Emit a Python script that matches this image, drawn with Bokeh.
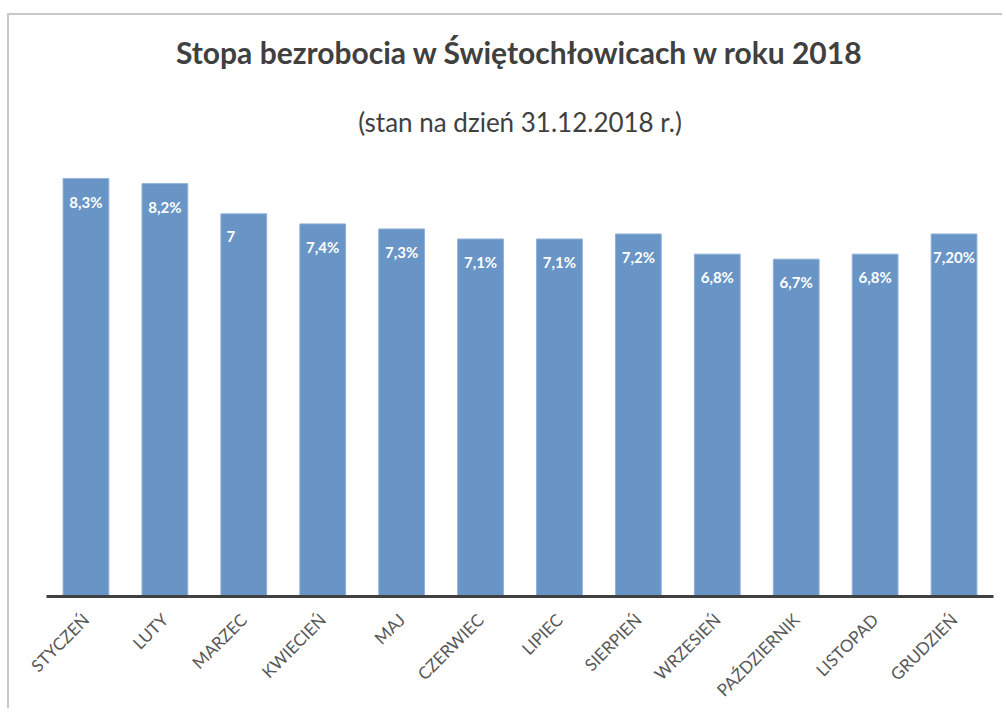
import math
from bokeh.plotting import figure
from bokeh.models import ColumnDataSource, Title, Range1d, FactorRange
from bokeh.core.properties import value
from bokeh.embed import file_html
from bokeh.resources import INLINE

months = ["STYCZEŃ", "LUTY", "MARZEC", "KWIECIEŃ", "MAJ", "CZERWIEC", "LIPIEC",
          "SIERPIEŃ", "WRZESIEŃ", "PAŹDZIERNIK", "LISTOPAD", "GRUDZIEŃ"]
rates = [8.3, 8.2, 7.6, 7.4, 7.3, 7.1, 7.1, 7.2, 6.8, 6.7, 6.8, 7.2]
labels = ["8,3%", "8,2%", "7", "7,4%", "7,3%", "7,1%", "7,1%", "7,2%",
          "6,8%", "6,7%", "6,8%", "7,20%"]

FONT = "Lato"
TXT = "#404040"

src = ColumnDataSource(dict(
    month=months, rate=rates, label=labels,
    xoff=[-13 if l == "7" else 0 for l in labels],
))

p = figure(x_range=FactorRange(factors=months), y_range=Range1d(0, 8.6),
           width=995, height=695, output_backend="svg", toolbar_location=None,
           min_border_left=37, min_border_right=11, min_border_top=148,
           min_border_bottom=113, title=None)
p.margin = (13, 0, 0, 7)
p.styles = {"border-left": "2px solid #c8c8c8", "border-top": "2px solid #c8c8c8"}

p.vbar(x="month", top="rate", width=0.58, source=src, fill_color="#6894C6",
       line_color="#8fb0d8", line_width=1)
p.text(x="month", y="rate", text="label", source=src, text_color="white",
       text_font=value(FONT), text_font_style="bold", text_font_size="15px",
       text_align="center", text_baseline="middle", y_offset=23, x_offset="xoff")

sub = Title(text="(stan na dzień 31.12.2018 r.)", align="center",
            text_font=FONT, text_font_size="26px", text_font_style="normal",
            text_color=TXT, standoff=52)
main = Title(text="Stopa bezrobocia w Świętochłowicach w roku 2018", align="center",
             text_font=FONT, text_font_size="30px", text_font_style="bold",
             text_color=TXT, standoff=15)
p.add_layout(sub, "above")
p.add_layout(main, "above")

p.yaxis.visible = False
p.xgrid.grid_line_color = None
p.ygrid.grid_line_color = None
p.outline_line_color = None
p.xaxis.major_tick_line_color = None
p.xaxis.minor_tick_line_color = None
p.xaxis.axis_line_color = "#404040"
p.xaxis.axis_line_width = 3
p.xaxis.major_label_orientation = math.pi / 4
p.xaxis.major_label_text_font = FONT
p.xaxis.major_label_text_font_size = "17px"
p.xaxis.major_label_text_color = "#595959"
p.xaxis.major_label_standoff = 14

open("out.html", "w").write(file_html(p, INLINE))
